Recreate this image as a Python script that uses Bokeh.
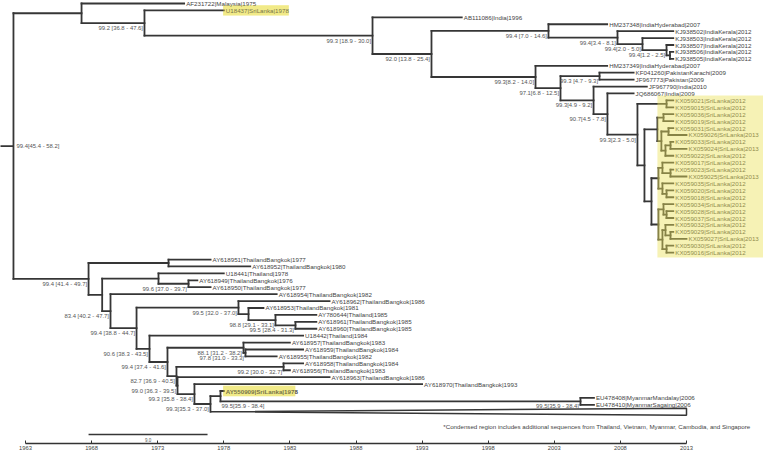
from collections import defaultdict
from bokeh.plotting import figure
from bokeh.models import Range1d, FixedTicker, ColumnDataSource
from bokeh.core.properties import value
from bokeh.embed import file_html
from bokeh.resources import INLINE

# ---------------- data ----------------
tip_names = [
    "AF231722|Malaysia|1975", "U18437|SriLanka|1978", "AB111086|India|1996",
    "HM237348|IndiaHyderabad|2007", "KJ938502|IndiaKerala|2012", "KJ938503|IndiaKerala|2012",
    "KJ938507|IndiaKerala|2012", "KJ938506|IndiaKerala|2012", "KJ938505|IndiaKerala|2012",
    "HM237349|IndiaHyderabad|2007", "KF041260|PakistanKarachi|2009", "JF967773|Pakistan|2009",
    "JF967790|India|2010", "JQ686067|India|2009",
    "KX059021|SriLanka|2012", "KX059015|SriLanka|2012", "KX059036|SriLanka|2012",
    "KX059019|SriLanka|2012", "KX059031|SriLanka|2012", "KX059026|SriLanka|2013",
    "KX059033|SriLanka|2012", "KX059024|SriLanka|2013", "KX059022|SriLanka|2012",
    "KX059017|SriLanka|2012", "KX059023|SriLanka|2012", "KX059025|SriLanka|2013",
    "KX059035|SriLanka|2012", "KX059020|SriLanka|2012", "KX059018|SriLanka|2012",
    "KX059034|SriLanka|2012", "KX059028|SriLanka|2012", "KX059037|SriLanka|2012",
    "KX059032|SriLanka|2012", "KX059029|SriLanka|2012", "KX059027|SriLanka|2013",
    "KX059030|SriLanka|2012", "KX059016|SriLanka|2012",
    "AY618951|ThailandBangkok|1977", "AY618952|ThailandBangkok|1980", "U18441|Thailand|1978",
    "AY618949|ThailandBangkok|1976", "AY618950|ThailandBangkok|1977", "AY618954|ThailandBangkok|1982",
    "AY618962|ThailandBangkok|1986", "AY618953|ThailandBangkok|1981", "AY780644|Thailand|1985",
    "AY618961|ThailandBangkok|1985", "AY618960|ThailandBangkok|1985", "U18442|Thailand|1984",
    "AY618957|ThailandBangkok|1983", "AY618959|ThailandBangkok|1984", "AY618955|ThailandBangkok|1982",
    "AY618958|ThailandBangkok|1984", "AY618956|ThailandBangkok|1983", "AY618963|ThailandBangkok|1986",
    "AY618970|ThailandBangkok|1993", "AY550909|SriLanka|1978",
    "EU478408|MyanmarMandalay|2006", "EU478410|MyanmarSagaing|2006",
    "",  # condensed region
]
tip_years = [
    1975, 1978, 1996, 2007, 2012, 2012, 2012, 2012, 2012, 2007, 2009, 2009, 2010, 2009,
    2012, 2012, 2012, 2012, 2012, 2013, 2012, 2013, 2012, 2012, 2012, 2013, 2012, 2012, 2012,
    2012, 2012, 2012, 2012, 2012, 2013, 2012, 2012,
    1977, 1980, 1978, 1976, 1977, 1982, 1986, 1981, 1985, 1985, 1985, 1984, 1983, 1984, 1982,
    1984, 1983, 1986, 1993, 1978, 2006, 2006, 2013,
]
tip_parents = [
    "N81", "N144", "N372", "N548", "N617", "N642", "N666", "N669", "N669", "N535", "NX", "NX",
    "N593", "N607",
    "A", "A", "C1", "C1", "C2a", "C2a", "C2c", "C2c", "C2b", "E1", "E1a", "E1a", "E2", "E2a", "E2a",
    "F1", "F1a", "F1a", "F2a", "F2a1", "F2a1", "F2b", "F2b",
    "T1a", "T1a", "T2a", "T2b", "T2b", "T3", "T4a", "T4b", "T4c", "T4d", "T4d", "T5", "T6b",
    "T6b2", "T6b2", "T6c", "T6c", "T8", "T9", "T11", "EU", "EU", "T10",
]
highlight_tips = ["U18437|SriLanka|1978", "AY550909|SriLanka|1978"]
condensed_tip = ""

node_ids = [
    "ROOT", "N81", "N144", "N372", "N431", "N548", "N617", "N642", "N666", "N669",
    "N535", "N560", "NX", "N593", "N607", "N637",
    "A", "B", "C", "C1", "C2", "C2a", "C2b", "C2c", "D", "E", "E1", "E1a", "E2", "E2a",
    "F", "F1", "F1a", "F2", "F2a", "F2a1", "F2b",
    "T1", "T1a", "T2", "T2a", "T2b", "T3", "T4", "T4a", "T4b", "T4c", "T4d", "T5", "T6",
    "T6b", "T6b2", "T7", "T6c", "T8", "T9", "T10", "T11", "EU",
]
node_parents = [
    None, "ROOT", "N81", "N144", "N372", "N431", "N548", "N617", "N642", "N666",
    "N431", "N535", "N560", "N560", "N593", "N607",
    "N637", "N637", "B", "C", "C", "C2", "C2", "C2b", "B", "D", "E", "E1", "E", "E2",
    "D", "F", "F1", "F", "F2", "F2a", "F2",
    "ROOT", "T1", "T1", "T2", "T2a", "T2", "T3", "T4", "T4a", "T4b", "T4c", "T4", "T5",
    "T6", "T6b", "T6", "T7", "T7", "T8", "T9", "T10", "T11",
]
node_years = [
    1962.09, 1967.24, 1972.00, 1989.25, 1993.71, 2002.56, 2007.78, 2009.67, 2011.49, 2011.75,
    2001.58, 2003.47, 2006.42, 2005.97, 2007.02, 2009.29,
    2011.49, 2009.82, 2010.80, 2011.26, 2011.10, 2011.64, 2011.41, 2011.79, 2010.35, 2010.88,
    2011.18, 2011.79, 2011.18, 2011.49, 2010.88, 2011.26, 2011.49, 2011.18, 2011.41, 2011.79,
    2011.49,
    1967.77, 1973.82, 1968.80, 1973.06, 1975.33, 1969.43, 1971.40, 1979.11, 1979.87, 1981.91,
    1983.42, 1972.38, 1973.74, 1979.49, 1979.64, 1974.42, 1982.52, 1974.50, 1975.78, 1976.99,
    1977.75, 2004.98,
]
node_labels = [
    "99.4[45.4 - 58.2]", "", "99.2 [36.8 - 47.6]", "99.3 [18.9 - 30.0]", "92.0 [13.8 - 25.4]",
    "99.4 [7.0 - 14.6]", "99.4[3.4 - 8.1]", "99.4[2.0 - 5.0]", "99.4[1.2 - 2.5]", "",
    "99.3[8.2 - 14.0]", "97.1[6.8 - 12.5]", "99.3 [4.7 - 9.3]", "99.3[4.9 - 9.2]",
    "90.7[4.5 - 7.8]", "99.3[2.3 - 5.0]",
    "", "", "", "", "", "", "", "", "", "", "", "", "", "", "", "", "", "", "", "", "",
    "99.4 [41.4 - 49.7]", "", "", "", "99.6 [37.0 - 39.7]", "83.4 [40.2 - 47.7]",
    "99.4 [38.8 - 44.7]", "99.5 [32.0 - 37.0]", "", "98.8 [29.1 - 33.1]", "99.5 [28.4 - 31.3]",
    "90.6 [38.3 - 43.5]", "99.4 [37.4 - 41.6]", "88.1 [31.2 - 38.2]", "97.8 [31.0 - 33.3]",
    "82.7 [36.9 - 40.5]", "99.2 [30.0 - 32.7]", "99.0 [36.3 - 39.5]", "99.3 [35.8 - 38.4]",
    "99.3[35.3 - 37.0]", "99.5[35.9 - 38.4]", "99.5[35.9 - 38.4]",
]
right_label_nodes = {"ROOT": "ROOT", "T11": "EU"}   # label written right of node, at row of given node
clade_first, clade_last = "KX059021|SriLanka|2012", "KX059016|SriLanka|2012"
axis_ticks = [1963, 1968, 1973, 1978, 1983, 1988, 1993, 1998, 2003, 2008, 2013]
scale_len = 9.0
footnote = ("*Condensed region includes additional sequences from Thailand, Vietnam, "
            "Myanmar, Cambodia, and Singapore")

# ---------------- layout ----------------
PX_PER_YEAR = 13.22
ROW = 6.92
W, H = 763, 454
FRAME_H = 443
x0 = 1963 - 25 / PX_PER_YEAR
x1 = x0 + W / PX_PER_YEAR
y_top = -3 / ROW

year = {n: y for n, y in zip(node_ids, node_years)}
parent = {n: p for n, p in zip(node_ids, node_parents)}
label = {n: l for n, l in zip(node_ids, node_labels)}
children = defaultdict(list)
for n, p in zip(node_ids, node_parents):
    if p is not None:
        children[p].append(n)
tip_of = {}
for i, (t, p) in enumerate(zip(tip_names, tip_parents)):
    key = "tip%d" % i
    children[p].append(key)
    year[key] = tip_years[i]
    parent[key] = p
    tip_of[key] = i

ypos = {}
def place(n):
    if n in tip_of:
        ypos[n] = float(tip_of[n])
        return ypos[n]
    ys = [place(c) for c in children[n]]
    ypos[n] = (min(ys) + max(ys)) / 2
    return ypos[n]
place("ROOT")

cond_key = "tip%d" % tip_names.index(condensed_tip)

p = figure(width=W, height=H, output_backend="svg", toolbar_location=None,
           x_range=Range1d(x0, x1),
           y_range=Range1d(y_top + FRAME_H / ROW, y_top),
           y_axis_location=None, min_border_left=0, min_border_right=0,
           min_border_top=0, min_border_bottom=H - FRAME_H)
p.grid.visible = False
p.outline_line_color = None
p.background_fill_color = "white"

FONT = value("Liberation Sans")
LINE = "#363636"

# text highlight boxes
for name in highlight_tips:
    i = tip_names.index(name)
    w = len(name) * 3.25 / PX_PER_YEAR
    p.quad(left=tip_years[i] - 0.05, right=tip_years[i] + w, top=i - 0.75, bottom=i + 0.75,
           fill_color="#f4ee9c", line_color=None)

# branches
hx0, hx1, hy, vx, vy0, vy1 = [], [], [], [], [], []
for n in list(parent.keys()):
    pa = parent[n]
    if n == cond_key:
        continue
    if pa is not None:
        hx0.append(year[pa]); hx1.append(year[n]); hy.append(ypos[n])
    if n in children:
        cy = [ypos[c] for c in children[n]]
        vx.append(year[n]); vy0.append(min(cy)); vy1.append(max(cy))
p.segment(x0=hx0, y0=hy, x1=hx1, y1=hy, line_color=LINE, line_width=1.8, line_cap="square")
p.segment(x0=vx, y0=vy0, x1=vx, y1=vy1, line_color=LINE, line_width=1.8, line_cap="square")
# root stub
p.segment(x0=[x0 - 1], y0=[ypos["ROOT"]], x1=[year["ROOT"]], y1=[ypos["ROOT"]],
          line_color=LINE, line_width=1.8)

# condensed region wedge
ci = tip_of[cond_key]
apex = year[parent[cond_key]]
p.patch(x=[apex, tip_years[ci], tip_years[ci]], y=[ci, ci - 0.5, ci + 0.5],
        fill_color="white", line_color=LINE, line_width=1.5)

# tip labels
tl = ColumnDataSource(dict(x=[y for y, n in zip(tip_years, tip_names) if n],
                           y=[i for i, n in enumerate(tip_names) if n],
                           t=[n for n in tip_names if n],
                           s=["bold" if n == "AY550909|SriLanka|1978" else "normal"
                              for n in tip_names if n]))
p.text(x="x", y="y", text="t", source=tl, text_font=FONT, text_font_size="6.2px",
       text_color="#444444", text_baseline="middle", text_align="left", x_offset=2,
       text_font_style="s")

# node labels
lx, ly, lt = [], [], []
rx, ry, rt = [], [], []
for n in node_ids:
    if not label[n]:
        continue
    if n in right_label_nodes:
        rx.append(year[n]); ry.append(ypos[right_label_nodes[n]]); rt.append(label[n])
    else:
        lx.append(year[n]); ly.append(ypos[n]); lt.append(label[n])
p.text(x=lx, y=ly, text=lt, text_font=FONT, text_font_size="5.9px", text_color="#555555",
       text_baseline="middle", text_align="right", x_offset=-1.5, y_offset=5)
p.text(x=rx[:1], y=ry[:1], text=rt[:1], text_font=FONT, text_font_size="5.9px",
       text_color="#555555", text_baseline="middle", text_align="left", x_offset=3)
p.text(x=rx[1:], y=ry[1:], text=rt[1:], text_font=FONT, text_font_size="5.9px",
       text_color="#555555", text_baseline="middle", text_align="left", x_offset=1, y_offset=5)

# clade highlight (translucent overlay)
c0, c1 = tip_names.index(clade_first), tip_names.index(clade_last)
p.quad(left=2010.8, right=x1 + 1, top=c0 - 0.7, bottom=c1 + 0.7,
       fill_color="#ece25a", fill_alpha=0.45, line_color=None)
for name in highlight_tips:
    i = tip_names.index(name)
    w = len(name) * 3.25 / PX_PER_YEAR
    p.quad(left=tip_years[i] - 0.05, right=tip_years[i] + w, top=i - 0.75, bottom=i + 0.75,
           fill_color="#ece25a", fill_alpha=0.3, line_color=None)

# footnote
p.text(x=[1994.6], y=[61.1], text=[footnote], text_font=FONT, text_font_size="6.2px",
       text_color="#444444", text_baseline="middle", text_align="left")

# scale bar
sb_x = 1967.77
p.segment(x0=[sb_x], y0=[62.3], x1=[sb_x + scale_len], y1=[62.3], line_color=LINE, line_width=1.5)
p.text(x=[sb_x + scale_len / 2], y=[63.1], text=["%.1f" % scale_len], text_font=FONT,
       text_font_size="4.5px", text_color="#555555", text_baseline="middle", text_align="center")

# time axis
ax = p.xaxis[0]
ax.bounds = (axis_ticks[0], axis_ticks[-1])
ax.ticker = FixedTicker(ticks=axis_ticks)
ax.axis_line_color = "#333333"
ax.axis_line_width = 1.5
ax.major_tick_in = 3
ax.major_tick_out = 0
ax.major_tick_line_color = "#333333"
ax.minor_tick_line_color = None
ax.major_label_standoff = 2
ax.major_label_text_font = "Liberation Sans"
ax.major_label_text_font_size = "5.8px"
ax.major_label_text_color = "#444444"

open("out.html", "w").write(file_html(p, INLINE))
